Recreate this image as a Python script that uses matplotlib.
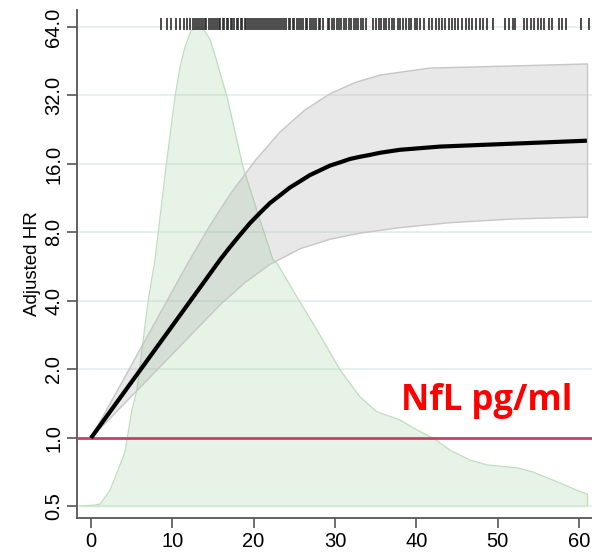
import matplotlib
matplotlib.use("Agg")
import matplotlib.pyplot as plt

# ---- data ----
spline_x = [0, 5, 10, 14, 15.86, 17.09, 18.32, 19.55, 20.78, 22.01, 23.24, 24.47, 25.70, 26.93,
            28.16, 29.39, 30.62, 31.85, 33.08, 34.31, 35.53, 37.99, 42.91, 50.29, 60.99]
spline_hr = [1.0, 1.764, 3.11, 4.90, 6.06, 6.90, 7.80, 8.79, 9.75, 10.77, 11.65, 12.61, 13.42, 14.30,
             15.00, 15.74, 16.26, 16.83, 17.21, 17.54, 17.92, 18.47, 19.08, 19.55, 20.25]

upper_x = [0, 6.02, 11.93, 14.63, 17.09, 20.16, 23.24, 26.31, 29.39, 32.46, 35.53, 38.61, 41.68, 51.89, 60.99]
upper_hr = [1.0, 2.44, 5.88, 8.58, 11.74, 16.51, 22.10, 27.63, 32.56, 36.46, 39.34, 40.76, 42.22, 43.14, 44.02]

lower_x = [0, 7.87, 15.86, 18.94, 22.01, 25.70, 29.39, 33.08, 37.99, 44.14, 51.89, 60.99]
lower_hr = [1.0, 1.948, 3.84, 4.82, 5.79, 6.78, 7.47, 7.94, 8.40, 8.83, 9.17, 9.35]

dens_x = [-1.35, 0.49, 1.11, 2.34, 3.32, 4.18, 5.04, 5.66, 7.01, 7.87, 9.23, 10.33, 10.95, 11.56,
          12.30, 13.04, 13.90, 14.63, 15.25, 16.73, 18.70, 20.79, 22.39, 22.88, 25.34, 27.80, 30.63,
          33.09, 35.18, 38.01, 40.10, 42.07, 44.16, 46.62, 48.71, 52.40, 54.37, 56.83, 59.78, 61.01]
dens_h = [0.0, 0.002, 0.004, 0.033, 0.075, 0.113, 0.201, 0.243, 0.427, 0.515, 0.709, 0.856, 0.918, 0.960,
          0.994, 1.002, 0.996, 0.977, 0.943, 0.856, 0.709, 0.598, 0.515, 0.508, 0.437, 0.368, 0.285,
          0.228, 0.197, 0.180, 0.159, 0.142, 0.117, 0.096, 0.086, 0.080, 0.071, 0.054, 0.033, 0.025]

rug_x = [8.6, 9.4, 9.9, 10.5, 10.9, 11.4, 11.8,
         12.2, 12.5, 12.8, 13.0, 13.3, 13.5, 13.8, 14.0, 14.2, 14.5, 14.7, 15.0, 15.2, 15.5, 15.7,
         15.9, 16.2, 16.4, 16.7, 16.9, 17.2, 17.4, 17.6, 17.9, 18.1, 18.4, 18.6, 18.9, 19.1, 19.3,
         19.6, 19.8, 20.1, 20.3, 20.6, 20.8, 21.0, 21.3, 21.5, 21.8, 22.0, 22.3, 22.5, 22.8, 23.0,
         23.3, 23.5, 23.8, 24.0, 24.3, 24.5, 24.8, 25.0, 25.3, 25.6, 25.8, 26.1, 26.4, 26.6, 26.9,
         27.2, 27.4, 27.7, 28.0, 28.2, 28.5, 29.1, 29.3, 29.6, 29.9, 30.2, 30.5, 30.8, 31.1, 31.4,
         31.7, 32.0, 32.3, 32.6, 32.9, 33.2, 33.5, 33.8, 34.7, 35.0, 35.4, 35.7, 36.0, 36.3, 36.7,
         37.0, 37.3, 37.7, 38.0, 38.4, 38.7, 39.1, 39.4, 39.8, 40.1, 40.5, 40.9, 41.6, 42.0, 42.4,
         42.8, 43.2, 43.6, 44.0, 44.4, 44.8, 45.2, 45.6, 46.1, 46.5, 46.9, 47.4, 47.8, 48.2, 48.7,
         49.4, 50.9, 51.4, 51.9, 52.2, 53.2, 53.6, 54.1, 54.5, 55.0, 55.3, 55.7, 56.3, 56.7, 57.5,
         57.9, 58.4, 60.3, 61.3]

yticks = [0.5, 1.0, 2.0, 4.0, 8.0, 16.0, 32.0, 64.0]
ytick_labels = ["0.5", "1.0", "2.0", "4.0", "8.0", "16.0", "32.0", "64.0"]
xticks = [0, 10, 20, 30, 40, 50, 60]
ref_hr = 1.0
annotation = "NfL pg/ml"
ylabel = "Adjusted HR"

# ---- figure ----
plt.rcParams['font.family'] = ['Liberation Sans', 'DejaVu Sans']
fig = plt.figure(figsize=(5.92, 5.52), dpi=100)
ax = fig.add_axes([77/592, 34/552, 1 - 77/592, 508/552])

ax.set_yscale('log', base=2)
ax.set_xlim(-1.72, 61.62)
ax.set_ylim(0.445, 76.0)

# grid
for yt in yticks:
    ax.axhline(yt, color='#e2eded', lw=1.2, zorder=0)

# density on twin axis (linear)
ax2 = ax.twinx()
ax2.set_ylim(-0.0251, 1.0377)
ax2.axis('off')
ax2.fill_between(dens_x, 0, dens_h, color='#a6d6a6', alpha=0.28, lw=0, zorder=1)
ax2.plot(dens_x, dens_h, color='#bddebd', lw=0.9, zorder=2)
ax2.plot([dens_x[-1], dens_x[-1]], [0, dens_h[-1]], color='#bddebd', lw=0.9)
ax2.plot([dens_x[0], dens_x[-1]], [0, 0], color='#d2e8d2', lw=1.0)

# confidence band (on a log axis overlay)
poly_x = list(upper_x) + list(lower_x[::-1])
poly_y = list(upper_hr) + list(lower_hr[::-1])
ax3 = ax2.twinx()
ax3.set_yscale('log', base=2)
ax3.set_ylim(ax.get_ylim())
ax3.set_xlim(ax.get_xlim())
ax3.axis('off')
ax3.fill(poly_x, poly_y, facecolor='#9a9a9a', alpha=0.22, edgecolor='none')
ax3.plot(upper_x, upper_hr, color='#c6c6c6', lw=1.0)
ax3.plot(lower_x, lower_hr, color='#c6c6c6', lw=1.0)
ax3.plot([upper_x[-1], lower_x[-1]], [upper_hr[-1], lower_hr[-1]], color='#c6c6c6', lw=1.0)

# reference line
ax3.axhline(ref_hr, color='#c8406a', lw=2.0)

# spline
ax3.plot(spline_x, spline_hr, color='black', lw=3.0, solid_capstyle='butt', solid_joinstyle='round')

# rug
ax3.vlines(rug_x, 0.961, 0.984, transform=ax3.get_xaxis_transform(), color='#2e2e2e', lw=1.2)

# annotation
ax3.text(0.961, 0.2126, annotation, transform=ax3.transAxes, color='#ff0000',
         fontsize=25, fontweight='bold', family=['Open Sans', 'DejaVu Sans'], ha='right', va='baseline')

# axes styling
ax.set_yticks(yticks)
ax.set_yticklabels(ytick_labels)
ax.yaxis.set_minor_locator(matplotlib.ticker.NullLocator())
ax.set_xticks(xticks)
ax.tick_params(axis='y', labelrotation=90, length=7, width=1.2, color='#555555', labelsize=14.5, pad=3)
ax.tick_params(axis='x', length=7, width=1.2, color='#555555', labelsize=14.5, pad=3)
for lab in ax.get_yticklabels():
    lab.set_va('center')
ax.set_ylabel(ylabel, fontsize=13.5, labelpad=2)
for s in ['top', 'right']:
    ax.spines[s].set_visible(False)
for s in ['left', 'bottom']:
    ax.spines[s].set_color('#555555')
    ax.spines[s].set_linewidth(1.3)

fig.savefig('out.png', dpi=100)
